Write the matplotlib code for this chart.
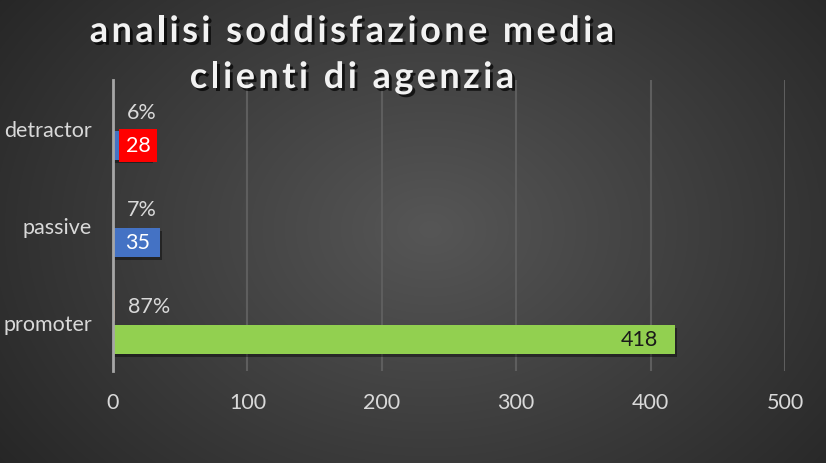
import matplotlib

matplotlib.use("Agg")
import matplotlib.patheffects as pe
import matplotlib.pyplot as plt
import numpy as np

# ── data (bottom → top) ──
categories = ["promoter", "passive", "detractor"]
counts = [418, 35, 28]
shares = [0.87, 0.07, 0.06]
xticks = [0, 100, 200, 300, 400, 500]
title_lines = ["analisi soddisfazione media", "clienti di agenzia"]

# ── style ──
COUNT_COLORS = ["#92D050", "#4472C4", "#4472C4"]
SHARE_COLOR = "#ED7D31"
LABEL_COLORS = ["#1A1A1A", "white", "white"]
LABEL_BOXES = [None, None, "#FF0000"]
LABEL_DX = [-17, -10, 0]  # pixels from bar end
TXT = "#D9D9D9"
FONT = "Lato"
FS = 15.5

plt.rcParams.update({"font.family": FONT, "font.size": FS})

W, H = 826, 464
fig = plt.figure(figsize=(W / 100, H / 100), dpi=100)

# radial-ish grey background
bg = fig.add_axes([0, 0, 1, 1], zorder=-10)
yy, xx = np.mgrid[0:H, 0:W]
d = np.sqrt(((xx - 430) / 560.0) ** 2 + ((yy - 230) / 420.0) ** 2)
d = np.clip(d, 0, 1)
light = np.array([0x56, 0x56, 0x56]) / 255
dark = np.array([0x24, 0x24, 0x24]) / 255
img = light[None, None, :] * (1 - d[..., None]) + dark[None, None, :] * d[..., None]
bg.imshow(img, aspect="auto", extent=[0, 1, 0, 1])
bg.axis("off")

ax = fig.add_axes([113 / W, 92 / H, 672 / W, 291 / H])
ax.set_facecolor("none")

y = np.arange(len(categories))
h = 0.3
off = 0.175
shadow = [pe.SimplePatchShadow(offset=(1.5, -2.5), shadow_rgbFace="black", alpha=0.4), pe.Normal()]

bars = ax.barh(y - off, counts, height=h, color=COUNT_COLORS, zorder=3, path_effects=shadow)
pbars = ax.barh(y + off, shares, height=h, color=SHARE_COLOR, edgecolor=SHARE_COLOR,
                linewidth=1.2, zorder=3)

for i, (c, s) in enumerate(zip(counts, shares)):
    box = None
    if LABEL_BOXES[i]:
        box = dict(boxstyle="square,pad=0.3", fc=LABEL_BOXES[i], ec="none")
    ax.annotate(f"{c}", (c, y[i] - off), xytext=(LABEL_DX[i], 0), textcoords="offset pixels",
                ha="right", va="center", color=LABEL_COLORS[i], bbox=box, zorder=5)
    ax.annotate(f"{round(s * 100)}%", (s, y[i] + off), xytext=(14, 0),
                textcoords="offset pixels", ha="left", va="center", color=TXT, zorder=5)

ax.set_xlim(0, 500)
ax.set_ylim(-0.5, len(categories) - 0.5)
ax.set_xticks(xticks)
ax.set_yticks(y)
ax.set_yticklabels(categories)
ax.tick_params(axis="both", colors=TXT, length=0, labelsize=FS)
ax.tick_params(axis="x", pad=15)
ax.tick_params(axis="y", pad=15)
ax.grid(axis="x", color="#5E5E5E", lw=1.5, zorder=0)
for side in ["top", "right", "bottom"]:
    ax.spines[side].set_visible(False)
ax.spines["left"].set_color("#A6A6A6")
ax.spines["left"].set_linewidth(2)
ax.spines["left"].set_zorder(4)


# title with letter spacing (drawn char by char)
tshadow = [pe.SimplePatchShadow(offset=(2, -2), shadow_rgbFace="black", alpha=0.7), pe.Normal()]
renderer = fig.canvas.get_renderer()
tkw = dict(fontsize=26, fontweight="bold", color="#F2F2F2", va="baseline", ha="left")


def char_width(ch):
    if ch == " ":
        a = fig.text(0, 0, "a a", **tkw)
        b = fig.text(0, 0, "aa", **tkw)
        w = a.get_window_extent(renderer).width - b.get_window_extent(renderer).width
        a.remove()
        b.remove()
        return w
    t = fig.text(0, 0, ch, **tkw)
    w = t.get_window_extent(renderer).width
    t.remove()
    return w


def spaced_title(txt, cx, base, spacing=3.4):
    widths = [char_width(ch) for ch in txt]
    total = sum(widths) + spacing * (len(txt) - 1)
    x = cx - total / 2
    for ch, w in zip(txt, widths):
        if ch != " ":
            fig.text(x / W, 1 - base / H, ch, path_effects=tshadow, **tkw)
        x += w + spacing


spaced_title(title_lines[0], 352, 43)
spaced_title(title_lines[1], 352, 89)

fig.savefig("out.png", dpi=100)
